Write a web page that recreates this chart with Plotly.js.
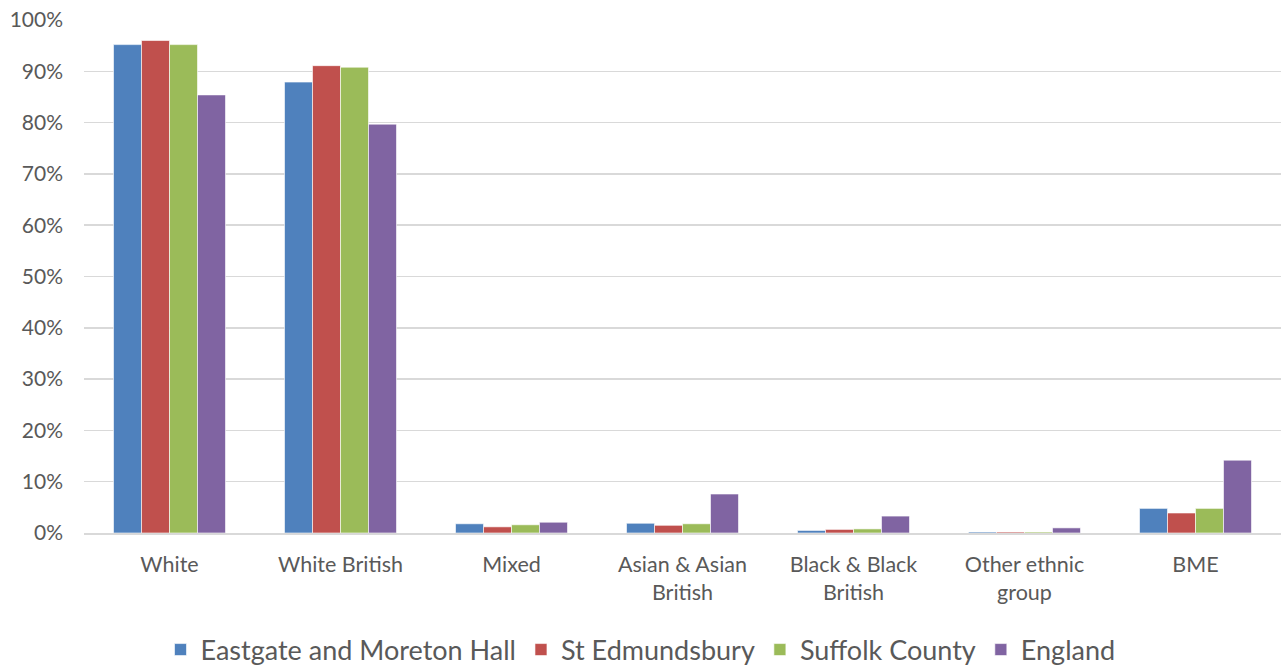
<!DOCTYPE html>
<html><head><meta charset="utf-8">
<script src="https://cdn.plot.ly/plotly-3.0.1.min.js"></script>
<style>html,body{margin:0;padding:0;background:#fff}#c{width:1281px;height:666px}</style>
</head><body><div id="c"></div>
<script>
const categories = ["White","White British","Mixed","Asian & Asian<br>British","Black & Black<br>British","Other ethnic<br>group","BME"];
const seriesNames = ["Eastgate and Moreton Hall","St Edmundsbury","Suffolk County","England"];
const eastgate = [0.952,0.879,0.018,0.019,0.005,0.002,0.048];
const stEdmundsbury = [0.960,0.911,0.012,0.015,0.007,0.002,0.039];
const suffolk = [0.952,0.908,0.016,0.018,0.008,0.002,0.048];
const england = [0.854,0.797,0.021,0.076,0.033,0.010,0.142];
const colors = ["#4F81BD","#C0504D","#9BBB59","#8064A2"];
const values = [eastgate, stEdmundsbury, suffolk, england];
const traces = values.map((v,i)=>({
  type:'bar', x:categories, y:v, name:seriesNames[i],
  marker:{color:colors[i], line:{color:'rgba(255,255,255,0.6)', width:1}},
  hoverinfo:'y'
}));
const layout = {
  width:1281, height:666,
  margin:{l:84,r:0,t:20,b:133},
  paper_bgcolor:'#fff', plot_bgcolor:'#fff',
  font:{family:'Lato, "Open Sans", sans-serif', color:'#595959', size:21},
  barmode:'group', bargap:0.345, bargroupgap:0,
  xaxis:{type:'category', showgrid:false, showline:true, linecolor:'#d9d9d9', linewidth:1.5,
         ticks:'', ticklabelstandoff:12, automargin:false, tickfont:{size:21.5, color:'#595959'}},
  yaxis:{range:[0,1], dtick:0.1, tickformat:'.0%', showgrid:true, gridcolor:'#d9d9d9', gridwidth:1.5,
         zeroline:false, showline:false, ticks:'', ticklabelstandoff:20, automargin:false, tickfont:{size:21, color:'#595959'}},
  showlegend:true,
  legend:{orientation:'h', x:0.5, xref:'container', xanchor:'center', yref:'container', y:0.024, yanchor:'middle',
          font:{size:27, color:'#595959'}, itemwidth:30, traceorder:'normal'}
};
Plotly.newPlot('c', traces, layout, {displayModeBar:false, staticPlot:true});
</script></body></html>
